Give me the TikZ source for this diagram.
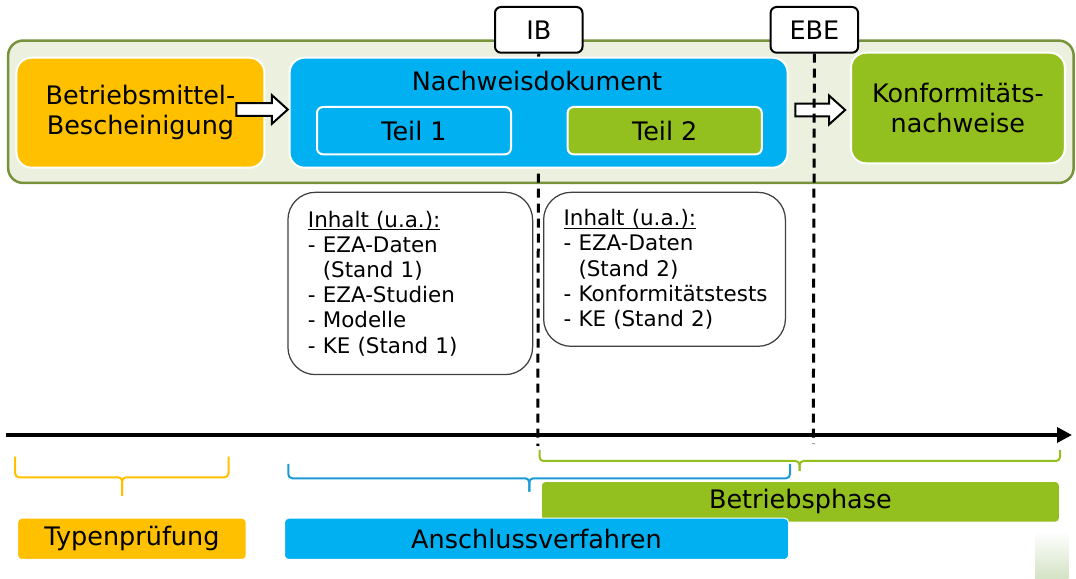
\documentclass[tikz,border=0pt]{standalone}
\usepackage{fontspec}
\setmainfont{DejaVu Sans}
\usetikzlibrary{arrows.meta,positioning,calc,shapes.arrows}
\definecolor{gelb}{HTML}{FFC000}
\definecolor{blau}{HTML}{00B0F0}
\definecolor{gruen}{HTML}{93C01F}
\definecolor{rahmenbox}{HTML}{EBF1DE}
\definecolor{rahmenlinie}{HTML}{77933C}
\definecolor{klammerblau}{HTML}{1B9AD6}
\definecolor{verlauf}{HTML}{D3E2C4}

\begin{document}
\begin{tikzpicture}[
  every node/.style={font=\fontsize{14.5}{17}\selectfont},
  rahmen/.style={draw=rahmenlinie, fill=rahmenbox, line width=0.05cm, rounded corners=0.3cm,
    minimum width=21.31cm, minimum height=2.848cm, anchor=north west, inner sep=0},
  kasten/.style={draw=white, line width=0.04cm, rounded corners=0.3cm,
    minimum height=2.2cm, anchor=north west, inner sep=0, align=center},
  teil/.style={draw=white, line width=0.04cm, rounded corners=0.12cm,
    minimum width=3.88cm, minimum height=0.946cm, anchor=north west, inner sep=0},
  marke/.style={draw=black, fill=white, line width=0.04cm, rounded corners=0.12cm,
    minimum width=1.75cm, minimum height=0.914cm, anchor=north west, inner sep=0},
  inhalt/.style={draw=black!75, fill=white, line width=0.025cm, rounded corners=0.55cm,
    anchor=north west, inner xsep=0.4cm, inner ysep=0, align=left,
    font=\fontsize{12.2}{14.34}\selectfont},
  blockpfeil/.style={single arrow, draw=black, fill=white, line width=0.04cm,
    single arrow head extend=0.16cm, single arrow tip angle=84,
    inner xsep=0, inner ysep=0.107cm, minimum height=1.03cm},
  stichtag/.style={line width=0.06cm, dash pattern=on 0.18cm off 0.12cm},
  zeitachse/.style={-{Triangle[length=0.3cm, width=0.3cm]}, line width=0.07cm},
  klammer/.style={line width=0.04cm, rounded corners=0.08cm},
  balken/.style={draw=white, line width=0.02cm, rounded corners=0.08cm,
    minimum height=0.826cm, anchor=north west, inner sep=0}
]
\useasboundingbox (0,0) rectangle (21.52,-11.58);
\node[rahmen] (rahmen) at (0.138,-0.786) {};
\node[marke] (ib) at (9.880,-0.120) {IB};
\node[marke] (ebe) at (15.392,-0.120) {EBE};
\coordinate (ibEnde) at (10.755,-8.920);
\coordinate (ebeEnde) at (16.266,-8.880);
\draw[stichtag] (ib.south) -- (ibEnde);
\node[kasten, fill=gelb, minimum width=4.958cm] (bmb) at (0.310,-1.134) {Betriebsmittel-\\Bescheinigung};
\node[kasten, fill=blau, minimum width=9.960cm] (nwd) at (5.772,-1.134) {};
\node[anchor=base] (nwdTitel) at (10.740,-1.814) {Nachweisdokument};
\node[teil, fill=blau] (teilA) at (6.320,-2.120) {Teil 1};
\node[teil, fill=gruen, minimum width=3.884cm] (teilB) at (11.332,-2.120) {Teil 2};
\node[kasten, fill=gruen, minimum width=4.276cm, minimum height=2.212cm] (knw) at (17.000,-1.034) {Konformitäts-\\nachweise};
\node[blockpfeil] (pfeilA) at (5.170,-2.190) {};
\node[blockpfeil, minimum height=0.996cm] (pfeilB) at (16.334,-2.200) {};
\draw[stichtag] (ebe.south) -- (ebeEnde);
\node[inhalt, text width=4.094cm, minimum height=3.646cm] (inhaltA) at (5.746,-3.834) {\underline{\smash{Inhalt (u.a.):}}\vphantom{(}\\- EZA-Daten\\\hphantom{- }(Stand 1)\\- EZA-Studien\\- Modelle\\- KE (Stand 1)};
\node[inhalt, text width=4.036cm, minimum height=3.080cm] (inhaltB) at (10.860,-3.834) {\underline{\smash{Inhalt (u.a.):}}\vphantom{(}\\- EZA-Daten\\\hphantom{- }(Stand 2)\\\mbox{- Konformitätstests}\\- KE (Stand 2)};
\coordinate (zeitStart) at (0.110,-8.700);
\coordinate (zeitEnde) at (21.440,-8.700);
\draw[zeitachse] (zeitStart) -- (zeitEnde);
\draw[klammer, gelb] (0.302,-9.134) |- (2.444,-9.546) -- (2.444,-9.920);
\draw[klammer, gelb] (4.570,-9.134) |- (2.444,-9.546) -- (2.444,-9.920);
\draw[klammer, klammerblau] (5.766,-9.280) |- (10.586,-9.566) -- (10.586,-9.834);
\draw[klammer, klammerblau] (15.800,-9.280) |- (10.586,-9.566) -- (10.586,-9.834);
\draw[klammer, gruen] (10.790,-9.000) |- (15.992,-9.220) -- (15.992,-9.420);
\draw[klammer, gruen] (21.200,-9.000) |- (15.992,-9.220) -- (15.992,-9.420);
\node[balken, fill=gruen, minimum width=10.364cm, minimum height=0.814cm] (betrieb) at (10.816,-9.620) {Betriebsphase};
\node[balken, fill=gelb, minimum width=4.570cm] (typ) at (0.344,-10.354) {Typenprüfung};
\node[balken, fill=blau, minimum width=10.080cm] (anschluss) at (5.680,-10.354) {Anschlussverfahren};
\shade[top color=white, bottom color=verlauf] (20.700,-10.634) rectangle (21.366,-11.580);
\end{tikzpicture}
\end{document}
